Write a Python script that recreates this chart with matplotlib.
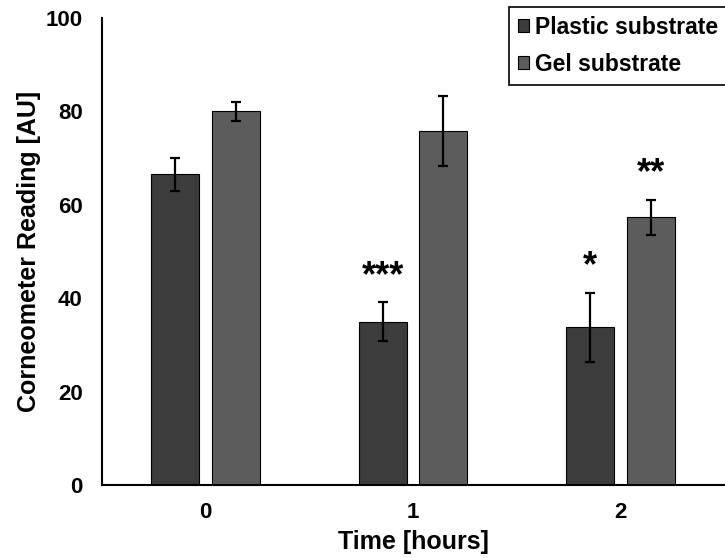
import numpy as np
import matplotlib
matplotlib.use('Agg')
import matplotlib.pyplot as plt

plt.rcParams['font.family'] = ['Liberation Sans', 'DejaVu Sans']
plt.rcParams['font.weight'] = 'bold'

times = ['0', '1', '2']
plastic = [66.5, 35.0, 33.8]
plastic_err = [3.5, 4.2, 7.4]
gel = [80.0, 75.8, 57.3]
gel_err = [2.0, 7.5, 3.8]
plastic_stars = ['', '***', '*']
gel_stars = ['', '', '**']

fig = plt.figure(figsize=(7.25, 5.58), dpi=100)
# axes: left 102 px, right ~724 px, bottom 485 px, top 18 px
ax = fig.add_axes([102 / 725, 1 - 485 / 558, 622 / 725, 467 / 558])

x = np.arange(len(times))
w = 0.231
off = 0.146
ekw = dict(ecolor='black', elinewidth=1.6, capsize=3.5, capthick=1.6)
ax.bar(x - off, plastic, w, yerr=plastic_err, color='#3c3c3c', edgecolor='black',
       linewidth=0.8, error_kw=ekw, label='Plastic substrate')
ax.bar(x + off, gel, w, yerr=gel_err, color='#5c5c5c', edgecolor='black',
       linewidth=0.8, error_kw=ekw, label='Gel substrate')

# significance marks just above the error bars
for i in range(len(times)):
    if plastic_stars[i]:
        ax.text(x[i] - off, plastic[i] + plastic_err[i] + 5.5, plastic_stars[i],
                ha='center', va='center', fontsize=26, fontweight='bold')
    if gel_stars[i]:
        ax.text(x[i] + off, gel[i] + gel_err[i] + 5.5, gel_stars[i],
                ha='center', va='center', fontsize=26, fontweight='bold')

ax.set_xlim(-0.5, 2.5)
ax.set_ylim(0, 100)
ax.set_xticks(x)
ax.set_xticklabels(times)
ax.set_yticks([0, 20, 40, 60, 80, 100])
ax.tick_params(length=0, labelsize=16)
ax.tick_params(axis='x', pad=12)
ax.tick_params(axis='y', pad=14)
for s in ['top', 'right']:
    ax.spines[s].set_visible(False)
for s in ['left', 'bottom']:
    ax.spines[s].set_linewidth(1.5)

ax.set_xlabel('Time [hours]', fontsize=18, fontweight='bold', labelpad=5)
ax.set_ylabel('Corneometer Reading [AU]', fontsize=18, fontweight='bold', labelpad=3)

leg = fig.legend(loc='upper left', bbox_to_anchor=(509 / 725, 1 - 7 / 558), fontsize=16.5,
                 handlelength=0.5, handleheight=0.5, handletextpad=0.25,
                 fancybox=False, edgecolor='black', framealpha=1, borderpad=0.38,
                 borderaxespad=0, labelspacing=0.62)
leg.get_frame().set_linewidth(1.2)

fig.savefig('out.png', dpi=100)
